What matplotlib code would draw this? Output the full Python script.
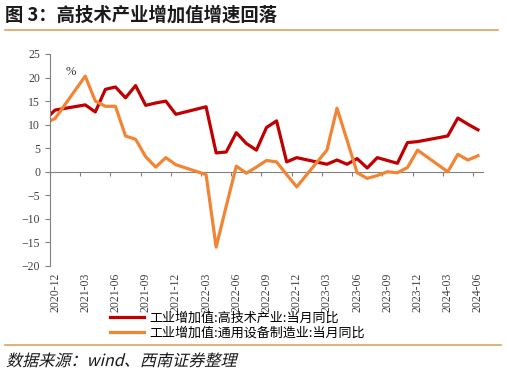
import matplotlib.pyplot as plt
from matplotlib.textpath import TextPath
from matplotlib.patches import PathPatch
from matplotlib.font_manager import FontProperties
from matplotlib.transforms import Affine2D

plt.rcParams['font.family'] = ['Noto Sans CJK SC', 'DejaVu Sans']

# monthly data (Jan/Feb not published separately)
months = ["2020-11", "2020-12",
          "2021-03", "2021-04", "2021-05", "2021-06", "2021-07", "2021-08",
          "2021-09", "2021-10", "2021-11", "2021-12",
          "2022-03", "2022-04", "2022-05", "2022-06", "2022-07", "2022-08",
          "2022-09", "2022-10", "2022-11", "2022-12",
          "2023-03", "2023-04", "2023-05", "2023-06", "2023-07", "2023-08",
          "2023-09", "2023-10", "2023-11", "2023-12",
          "2024-03", "2024-04", "2024-05", "2024-06"]
high_tech = [11.0, 13.1,
             14.2, 12.7, 17.5, 18.0, 15.7, 18.3,
             14.1, 14.6, 15.0, 12.2,
             13.8, 4.0, 4.2, 8.3, 6.0, 4.6,
             9.4, 10.8, 2.1, 3.0,
             1.6, 2.5, 1.6, 2.8, 0.8, 3.0,
             2.4, 1.8, 6.2, 6.4,
             7.6, 11.4, 10.1, 8.9]
general_equip = [10.3, 11.3,
                 20.3, 15.0, 13.9, 13.9, 7.6, 6.9,
                 3.2, 1.0, 3.0, 1.5,
                 -0.6, -16.0, -7.3, 1.2, -0.3, 1.0,
                 2.4, 2.1, -0.6, -3.2,
                 4.6, 13.5, 6.7, -0.2, -1.4, -0.8,
                 0.0, -0.2, 0.9, 4.6,
                 0.0, 3.7, 2.5, 3.4]
tick_labels = ["2020-12", "2021-03", "2021-06", "2021-09", "2021-12",
               "2022-03", "2022-06", "2022-09", "2022-12",
               "2023-03", "2023-06", "2023-09", "2023-12",
               "2024-03", "2024-06"]


def month_index(s):
    y, m = s.split("-")
    return (int(y) - 2020) * 12 + int(m) - 12


x = [month_index(m) for m in months]
tick_pos = [month_index(t) for t in tick_labels]

grey = "#808080"
serif = ["Liberation Serif", "DejaVu Serif"]

fig = plt.figure(figsize=(5.07, 3.75), dpi=100)
ax = fig.add_axes([50 / 507, 1 - 266 / 375, 433 / 507, 212 / 375])

ax.plot(x, high_tech, color="#C00000", lw=2.3,
        label="工业增加值:高技术产业:当月同比")
ax.plot(x, general_equip, color="#F28533", lw=2.3,
        label="工业增加值:通用设备制造业:当月同比")

ax.set_xlim(-0.5, 42.5)
ax.set_ylim(-20, 25)
ax.set_yticks(range(-20, 26, 5))
ax.set_xticks(tick_pos)
ax.set_xticklabels(tick_labels, rotation=90)

for s in ["top", "right", "bottom"]:
    ax.spines[s].set_visible(False)
ax.spines["left"].set_color(grey)
ax.tick_params(axis="y", direction="out", length=3.5, color=grey,
               labelsize=8.5, labelcolor="#404040", labelfontfamily=serif)
ax.tick_params(axis="x", length=0, pad=5, labelsize=8.5,
               labelcolor="#404040", labelfontfamily=serif)

# zero line carrying the tick marks
zero_ax = ax.secondary_xaxis(0, transform=ax.transData)
zero_ax.set_xticks([p - 0.5 for p in tick_pos])
zero_ax.tick_params(direction="out", length=3, color=grey, labelbottom=False,
                    labeltop=False)
zero_ax.spines["bottom"].set_color(grey)
zero_ax.spines["top"].set_color(grey)

ax.text(0.035, 0.9, "%", transform=ax.transAxes, fontsize=9,
        family=serif, color="#333333")

fig.legend(loc="upper left", bbox_to_anchor=(110 / 507, 1 - 312 / 375),
           frameon=False, fontsize=9.4, handlelength=2.6, handletextpad=0.4,
           labelspacing=0.1, borderaxespad=0, borderpad=0)

fig.text(5 / 507, 1 - 15 / 375, "图 3：高技术产业增加值增速回落",
         fontsize=13.2, fontweight="bold", va="center", ha="left",
         color="#1a1a1a")
fig.add_artist(plt.Line2D([5 / 507, 498 / 507], [1 - 30 / 375, 1 - 30 / 375],
                          color="#D8A55E", lw=1.2))
fig.add_artist(plt.Line2D([5 / 507, 501 / 507], [1 - 345 / 375, 1 - 345 / 375],
                          color="#D8A55E", lw=1.2))

# source note, slanted like the original italic
src_path = TextPath((0, 0), "数据来源：wind、西南证券整理", size=11.6,
                    prop=FontProperties(family="Noto Sans CJK SC"))
src_tf = (Affine2D().skew_deg(14, 0).scale(1 / 72)
          .translate(6 / 100, (375 - 366) / 100) + fig.dpi_scale_trans)
fig.add_artist(PathPatch(src_path, transform=src_tf, color="#1a1a1a", lw=0))

fig.savefig("out.png", dpi=100)
